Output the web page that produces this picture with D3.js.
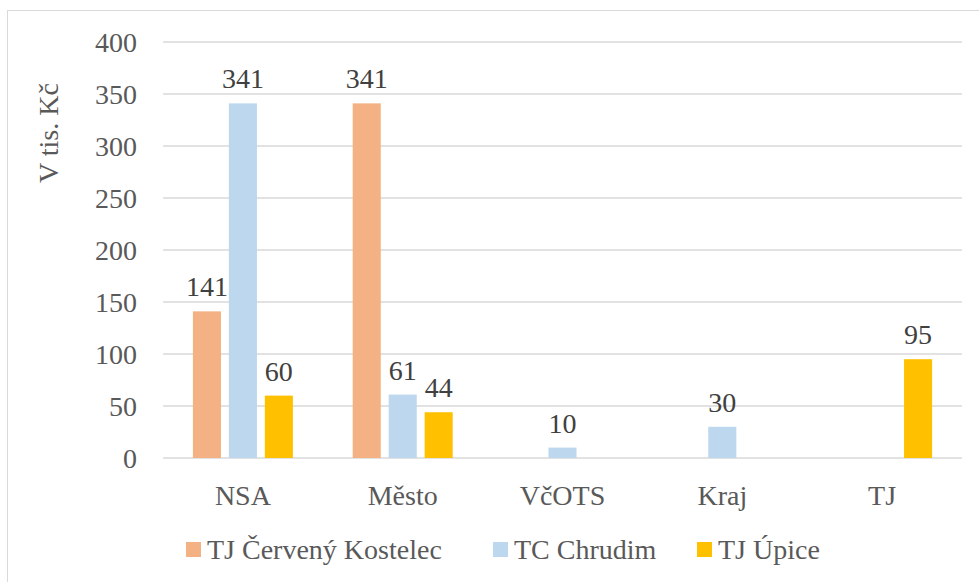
<!DOCTYPE html>
<html>
<head>
<meta charset="utf-8">
<script src="https://cdn.jsdelivr.net/npm/d3@7"></script>
<style>
  body { margin: 0; background: #fff; }
  svg text { font-family: "Liberation Serif", "Times New Roman", "DejaVu Serif", serif; }
</style>
</head>
<body>
<div id="chart"></div>
<script>
const categories = ["NSA", "Město", "VčOTS", "Kraj", "TJ"];
const seriesNames = ["TJ Červený Kostelec", "TC Chrudim", "TJ Úpice"];
const seriesColors = ["#F4B183", "#BDD7EE", "#FFC000"];
const kostelec = [141, 341, 0, 0, 0];
const chrudim = [341, 61, 10, 30, 0];
const upice = [60, 44, 0, 0, 95];
const yTicks = [0, 50, 100, 150, 200, 250, 300, 350, 400];

const values = [kostelec, chrudim, upice];
const width = 979, height = 582;
const plot = { left: 163, right: 962, top: 42, bottom: 458 };
const fs = 28;

const svg = d3.select("#chart").append("svg")
  .attr("width", width).attr("height", height);

// rámeček grafu
svg.append("rect")
  .attr("x", 7.5).attr("y", 10.5)
  .attr("width", width).attr("height", height)
  .attr("fill", "none").attr("stroke", "#d9d9d9");

const x = d3.scaleBand().domain(categories).range([plot.left, plot.right]);
const xInner = d3.scaleBand().domain(d3.range(seriesNames.length))
  .range([x.bandwidth() / 2 - 50, x.bandwidth() / 2 + 50]).paddingInner(0.22);
const y = d3.scaleLinear().domain([0, 400]).range([plot.bottom, plot.top]);

// mřížka
svg.append("g").selectAll("line").data(yTicks).join("line")
  .attr("x1", plot.left).attr("x2", plot.right)
  .attr("y1", d => y(d)).attr("y2", d => y(d))
  .attr("stroke", "#d9d9d9").attr("stroke-width", 1.5);

// popisky osy Y
svg.append("g").selectAll("text").data(yTicks).join("text")
  .attr("x", 137).attr("y", d => y(d))
  .attr("dy", "0.35em")
  .attr("text-anchor", "end")
  .attr("font-size", fs).attr("fill", "#595959")
  .text(d => d);

svg.append("text")
  .attr("transform", "translate(58,133) rotate(-90)")
  .attr("text-anchor", "middle")
  .attr("font-size", fs).attr("fill", "#595959")
  .text("V tis. Kč");

// sloupce
const groups = svg.append("g").selectAll("g").data(categories).join("g")
  .attr("transform", d => `translate(${x(d)},0)`);

groups.each(function(cat, ci) {
  const g = d3.select(this);
  values.forEach((vals, si) => {
    const v = vals[ci];
    if (!v) return;
    g.append("rect")
      .attr("x", xInner(si)).attr("width", xInner.bandwidth())
      .attr("y", y(v)).attr("height", y(0) - y(v))
      .attr("fill", seriesColors[si]);
    g.append("text")
      .attr("x", xInner(si) + xInner.bandwidth() / 2)
      .attr("y", y(v) - 15)
      .attr("text-anchor", "middle")
      .attr("font-size", fs).attr("fill", "#404040")
      .text(v);
  });
});

// popisky osy X
svg.append("g").selectAll("text").data(categories).join("text")
  .attr("x", d => x(d) + x.bandwidth() / 2).attr("y", 505)
  .attr("text-anchor", "middle")
  .attr("font-size", fs).attr("fill", "#595959")
  .text(d => d);

// legenda
const legendX = [186, 493, 697];
const legend = svg.append("g").selectAll("g").data(seriesNames).join("g")
  .attr("transform", (d, i) => `translate(${legendX[i]},542)`);
legend.append("rect").attr("width", 15).attr("height", 15)
  .attr("fill", (d, i) => seriesColors[i]);
legend.append("text").attr("x", 21).attr("y", 7.5).attr("dy", "0.35em")
  .attr("font-size", fs).attr("fill", "#595959")
  .text(d => d);
</script>
</body>
</html>
